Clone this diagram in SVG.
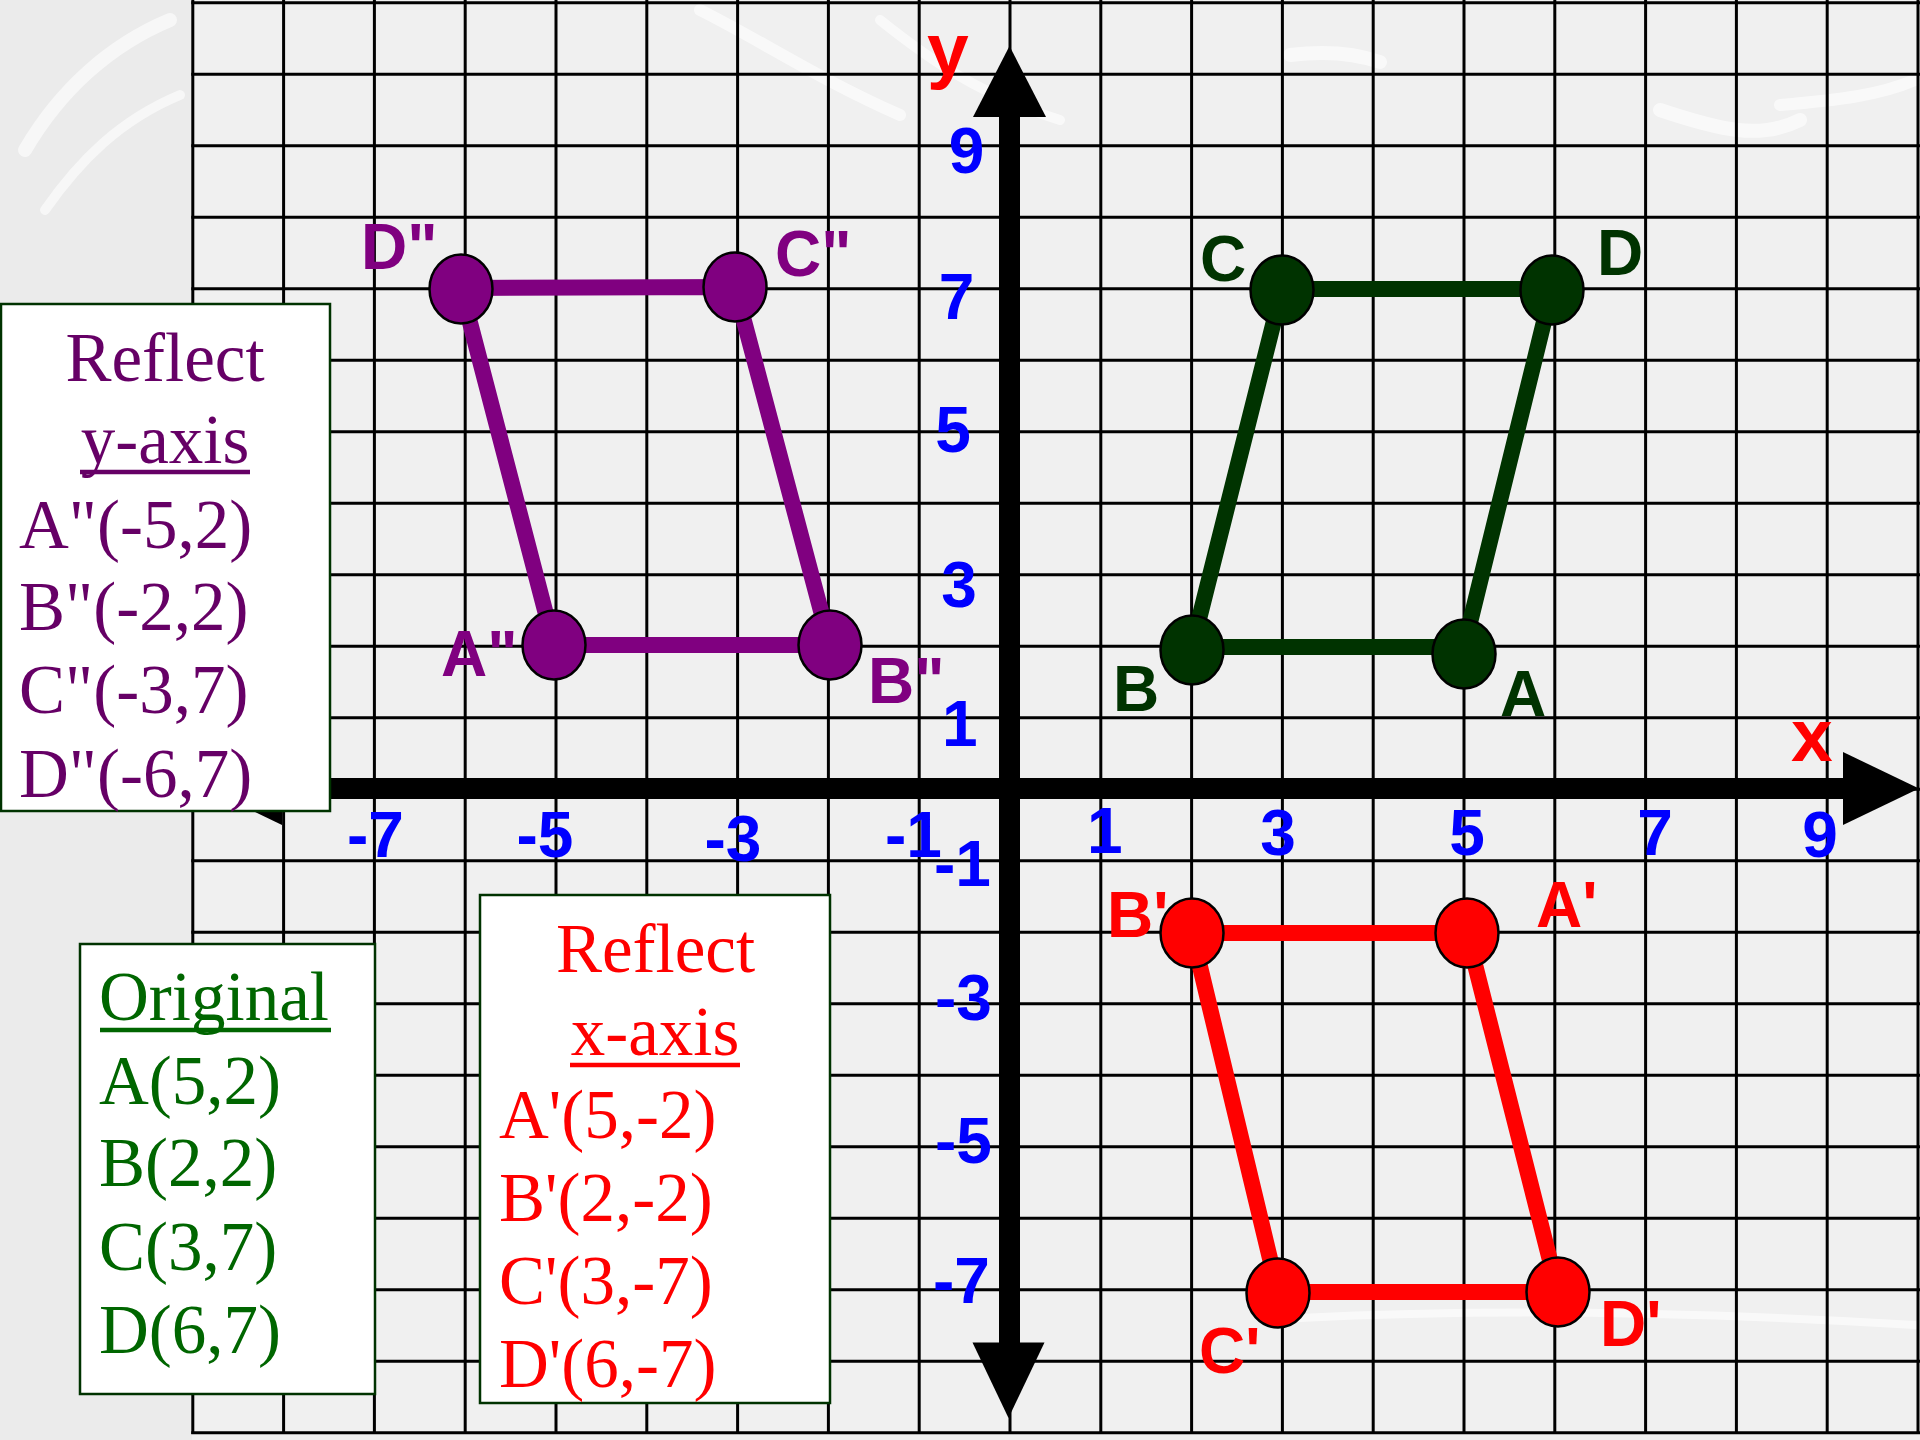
<svg xmlns="http://www.w3.org/2000/svg" width="1920" height="1440" viewBox="0 0 1920 1440">
<style>
.grid line{stroke:#000;stroke-width:3}
.streak{fill:none;stroke:#ffffff;stroke-linecap:round;opacity:0.6}
.lab{font-family:"Liberation Sans",Arial,Helvetica,sans-serif;font-weight:bold;font-size:64px}
.num{fill:#0000ff}
.ax{fill:#ff0000;font-size:75px}
.pu{fill:#800080}
.gr{fill:#003300}
.rd{fill:#ff0000}
.pt{stroke:#000;stroke-width:2.5}
.seg{stroke-width:16;stroke-linecap:butt;fill:none}
.box rect{fill:#ffffff;stroke:#003300;stroke-width:2.5}
.bt{font-family:"Liberation Serif","Times New Roman",Times,serif;font-size:69px}
</style>
<defs/>
<g id="background">
<rect x="0" y="0" width="1920" height="1440" fill="#f0f0f0"/>
<rect x="0" y="0" width="192" height="1440" fill="#ebebeb"/>
<path class="streak" stroke-width="14" d="M25,150 C60,90 110,45 170,20"/>
<path class="streak" stroke-width="10" d="M45,210 C80,160 120,120 180,95"/>
<path class="streak" stroke-width="12" d="M700,10 C760,40 820,80 900,115"/>
<path class="streak" stroke-width="10" d="M880,20 C930,60 980,95 1060,120"/>
<path class="streak" stroke-width="14" d="M1290,55 C1330,50 1360,55 1380,62"/>
<path class="streak" stroke-width="14" d="M1660,110 C1720,130 1760,140 1800,120"/>
<path class="streak" stroke-width="12" d="M1780,105 C1840,100 1880,95 1915,80"/>
<path class="streak" stroke-width="8" d="M1300,1318 C1500,1308 1700,1312 1915,1325"/>
</g>
<g class="grid" id="grid">
<line x1="192.8" y1="0" x2="192.8" y2="1434"/>
<line x1="283.6" y1="0" x2="283.6" y2="1434"/>
<line x1="374.4" y1="0" x2="374.4" y2="1434"/>
<line x1="465.2" y1="0" x2="465.2" y2="1434"/>
<line x1="556" y1="0" x2="556" y2="1434"/>
<line x1="646.8" y1="0" x2="646.8" y2="1434"/>
<line x1="737.6" y1="0" x2="737.6" y2="1434"/>
<line x1="828.4" y1="0" x2="828.4" y2="1434"/>
<line x1="919.2" y1="0" x2="919.2" y2="1434"/>
<line x1="1010" y1="0" x2="1010" y2="1434"/>
<line x1="1100.8" y1="0" x2="1100.8" y2="1434"/>
<line x1="1191.6" y1="0" x2="1191.6" y2="1434"/>
<line x1="1282.4" y1="0" x2="1282.4" y2="1434"/>
<line x1="1373.2" y1="0" x2="1373.2" y2="1434"/>
<line x1="1464" y1="0" x2="1464" y2="1434"/>
<line x1="1554.8" y1="0" x2="1554.8" y2="1434"/>
<line x1="1645.6" y1="0" x2="1645.6" y2="1434"/>
<line x1="1736.4" y1="0" x2="1736.4" y2="1434"/>
<line x1="1827.2" y1="0" x2="1827.2" y2="1434"/>
<line x1="1918" y1="0" x2="1918" y2="1434"/>
<line x1="191.3" y1="2.7" x2="1920" y2="2.7"/>
<line x1="191.3" y1="74.2" x2="1920" y2="74.2"/>
<line x1="191.3" y1="145.7" x2="1920" y2="145.7"/>
<line x1="191.3" y1="217.2" x2="1920" y2="217.2"/>
<line x1="191.3" y1="288.7" x2="1920" y2="288.7"/>
<line x1="191.3" y1="360.2" x2="1920" y2="360.2"/>
<line x1="191.3" y1="431.7" x2="1920" y2="431.7"/>
<line x1="191.3" y1="503.2" x2="1920" y2="503.2"/>
<line x1="191.3" y1="574.7" x2="1920" y2="574.7"/>
<line x1="191.3" y1="646.2" x2="1920" y2="646.2"/>
<line x1="191.3" y1="717.7" x2="1920" y2="717.7"/>
<line x1="191.3" y1="789.2" x2="1920" y2="789.2"/>
<line x1="191.3" y1="860.7" x2="1920" y2="860.7"/>
<line x1="191.3" y1="932.2" x2="1920" y2="932.2"/>
<line x1="191.3" y1="1003.7" x2="1920" y2="1003.7"/>
<line x1="191.3" y1="1075.2" x2="1920" y2="1075.2"/>
<line x1="191.3" y1="1146.7" x2="1920" y2="1146.7"/>
<line x1="191.3" y1="1218.2" x2="1920" y2="1218.2"/>
<line x1="191.3" y1="1289.7" x2="1920" y2="1289.7"/>
<line x1="191.3" y1="1361.2" x2="1920" y2="1361.2"/>
<line x1="191.3" y1="1432.7" x2="1920" y2="1432.7"/>
</g>
<g id="axes">
<line x1="280" y1="788.5" x2="1846" y2="788.5" stroke="#000" stroke-width="21"/>
<polygon points="1843,752 1919,788.5 1843,825" fill="#000"/>
<polygon points="282,752 206,788.5 282,825" fill="#000"/>
<line x1="1009.5" y1="114" x2="1009.5" y2="1346" stroke="#000" stroke-width="21"/>
<polygon points="973,117 1009.5,46 1046,117" fill="#000"/>
<polygon points="972.5,1342.5 1008.5,1418 1044.5,1342.5" fill="#000"/>
<text class="lab ax" x="1791" y="761">x</text>
<text class="lab ax" x="927" y="75">y</text>
</g>
<g id="axis-numbers" class="lab num">
<text x="375.5" y="857" text-anchor="middle">-7</text>
<text x="545" y="857" text-anchor="middle">-5</text>
<text x="733" y="861" text-anchor="middle">-3</text>
<text x="885" y="857">-1</text>
<text x="1087" y="853">1</text>
<text x="1278" y="855" text-anchor="middle">3</text>
<text x="1467" y="855" text-anchor="middle">5</text>
<text x="1655" y="855" text-anchor="middle">7</text>
<text x="1820" y="857" text-anchor="middle">9</text>
<text x="966.5" y="173" text-anchor="middle">9</text>
<text x="956.5" y="319" text-anchor="middle">7</text>
<text x="953" y="452" text-anchor="middle">5</text>
<text x="959" y="607" text-anchor="middle">3</text>
<text x="942" y="746">1</text>
<text x="934" y="886">-1</text>
<text x="963.5" y="1020" text-anchor="middle">-3</text>
<text x="963.5" y="1163" text-anchor="middle">-5</text>
<text x="961.5" y="1303" text-anchor="middle">-7</text>
</g>
<g id="connectors">
<polygon class="seg" stroke="#800080" points="461,288 735,287 830,645 554,645"/>
<polygon class="seg" stroke="#003300" points="1282,289 1552,289 1464,647 1192,647"/>
<polygon class="seg" stroke="#ff0000" points="1192,933 1467,933 1558,1292 1278,1292"/>
</g>
<g id="node-D2">
<ellipse class="pt pu" cx="461" cy="289" rx="31.5" ry="34.5"/>
<text class="lab pu" x="361" y="269">D"</text>
</g>
<g id="node-C2">
<ellipse class="pt pu" cx="735" cy="287" rx="31.5" ry="34.5"/>
<text class="lab pu" x="775" y="276">C"</text>
</g>
<g id="node-A2">
<ellipse class="pt pu" cx="554" cy="645" rx="31.5" ry="34.5"/>
<text class="lab pu" x="441" y="676">A"</text>
</g>
<g id="node-B2">
<ellipse class="pt pu" cx="830" cy="645" rx="31.5" ry="34.5"/>
<text class="lab pu" x="868" y="703">B"</text>
</g>
<g id="node-C">
<ellipse class="pt gr" cx="1282" cy="290" rx="31.5" ry="34.5"/>
<text class="lab gr" x="1200" y="281">C</text>
</g>
<g id="node-D">
<ellipse class="pt gr" cx="1552" cy="290" rx="31.5" ry="34.5"/>
<text class="lab gr" x="1597" y="275">D</text>
</g>
<g id="node-B">
<ellipse class="pt gr" cx="1192" cy="650" rx="31.5" ry="34.5"/>
<text class="lab gr" x="1113" y="711">B</text>
</g>
<g id="node-A">
<ellipse class="pt gr" cx="1464" cy="654" rx="31.5" ry="34.5"/>
<text class="lab gr" x="1500" y="716">A</text>
</g>
<g id="node-B1">
<ellipse class="pt rd" cx="1192" cy="933" rx="31.5" ry="34.5"/>
<text class="lab rd" x="1107" y="937">B'</text>
</g>
<g id="node-A1">
<ellipse class="pt rd" cx="1467" cy="933" rx="31.5" ry="34.5"/>
<text class="lab rd" x="1536" y="927">A'</text>
</g>
<g id="node-C1">
<ellipse class="pt rd" cx="1278" cy="1293" rx="31.5" ry="34.5"/>
<text class="lab rd" x="1199" y="1373">C'</text>
</g>
<g id="node-D1">
<ellipse class="pt rd" cx="1558" cy="1292" rx="31.5" ry="34.5"/>
<text class="lab rd" x="1600" y="1346">D'</text>
</g>
<g id="box-reflect-y" class="box">
<rect x="1" y="304" width="329" height="507"/>
<g class="bt" fill="#660066">
<text x="165" y="381" text-anchor="middle">Reflect</text>
<text x="165" y="463" text-anchor="middle">y-axis</text>
<text x="19" y="548">A"(-5,2)</text>
<text x="19" y="630">B"(-2,2)</text>
<text x="19" y="713">C"(-3,7)</text>
<text x="19" y="797">D"(-6,7)</text>
</g>
<line x1="80" y1="472" x2="250" y2="472" stroke="#660066" stroke-width="4.5"/>
</g>
<g id="box-original" class="box">
<rect x="80" y="944" width="295" height="450"/>
<g class="bt" fill="#006600">
<text x="99" y="1020">Original</text>
<text x="99" y="1104">A(5,2)</text>
<text x="99" y="1186">B(2,2)</text>
<text x="99" y="1270">C(3,7)</text>
<text x="99" y="1353">D(6,7)</text>
</g>
<line x1="100" y1="1030" x2="331" y2="1030" stroke="#006600" stroke-width="4.5"/>
</g>
<g id="box-reflect-x" class="box">
<rect x="480" y="895" width="350" height="508"/>
<g class="bt" fill="#ff0000">
<text x="655.5" y="972" text-anchor="middle">Reflect</text>
<text x="655" y="1055" text-anchor="middle">x-axis</text>
<text x="499" y="1138">A'(5,-2)</text>
<text x="499" y="1221">B'(2,-2)</text>
<text x="499" y="1304">C'(3,-7)</text>
<text x="499" y="1387">D'(6,-7)</text>
</g>
<line x1="570" y1="1065" x2="740" y2="1065" stroke="#ff0000" stroke-width="4.5"/>
</g>
</svg>
